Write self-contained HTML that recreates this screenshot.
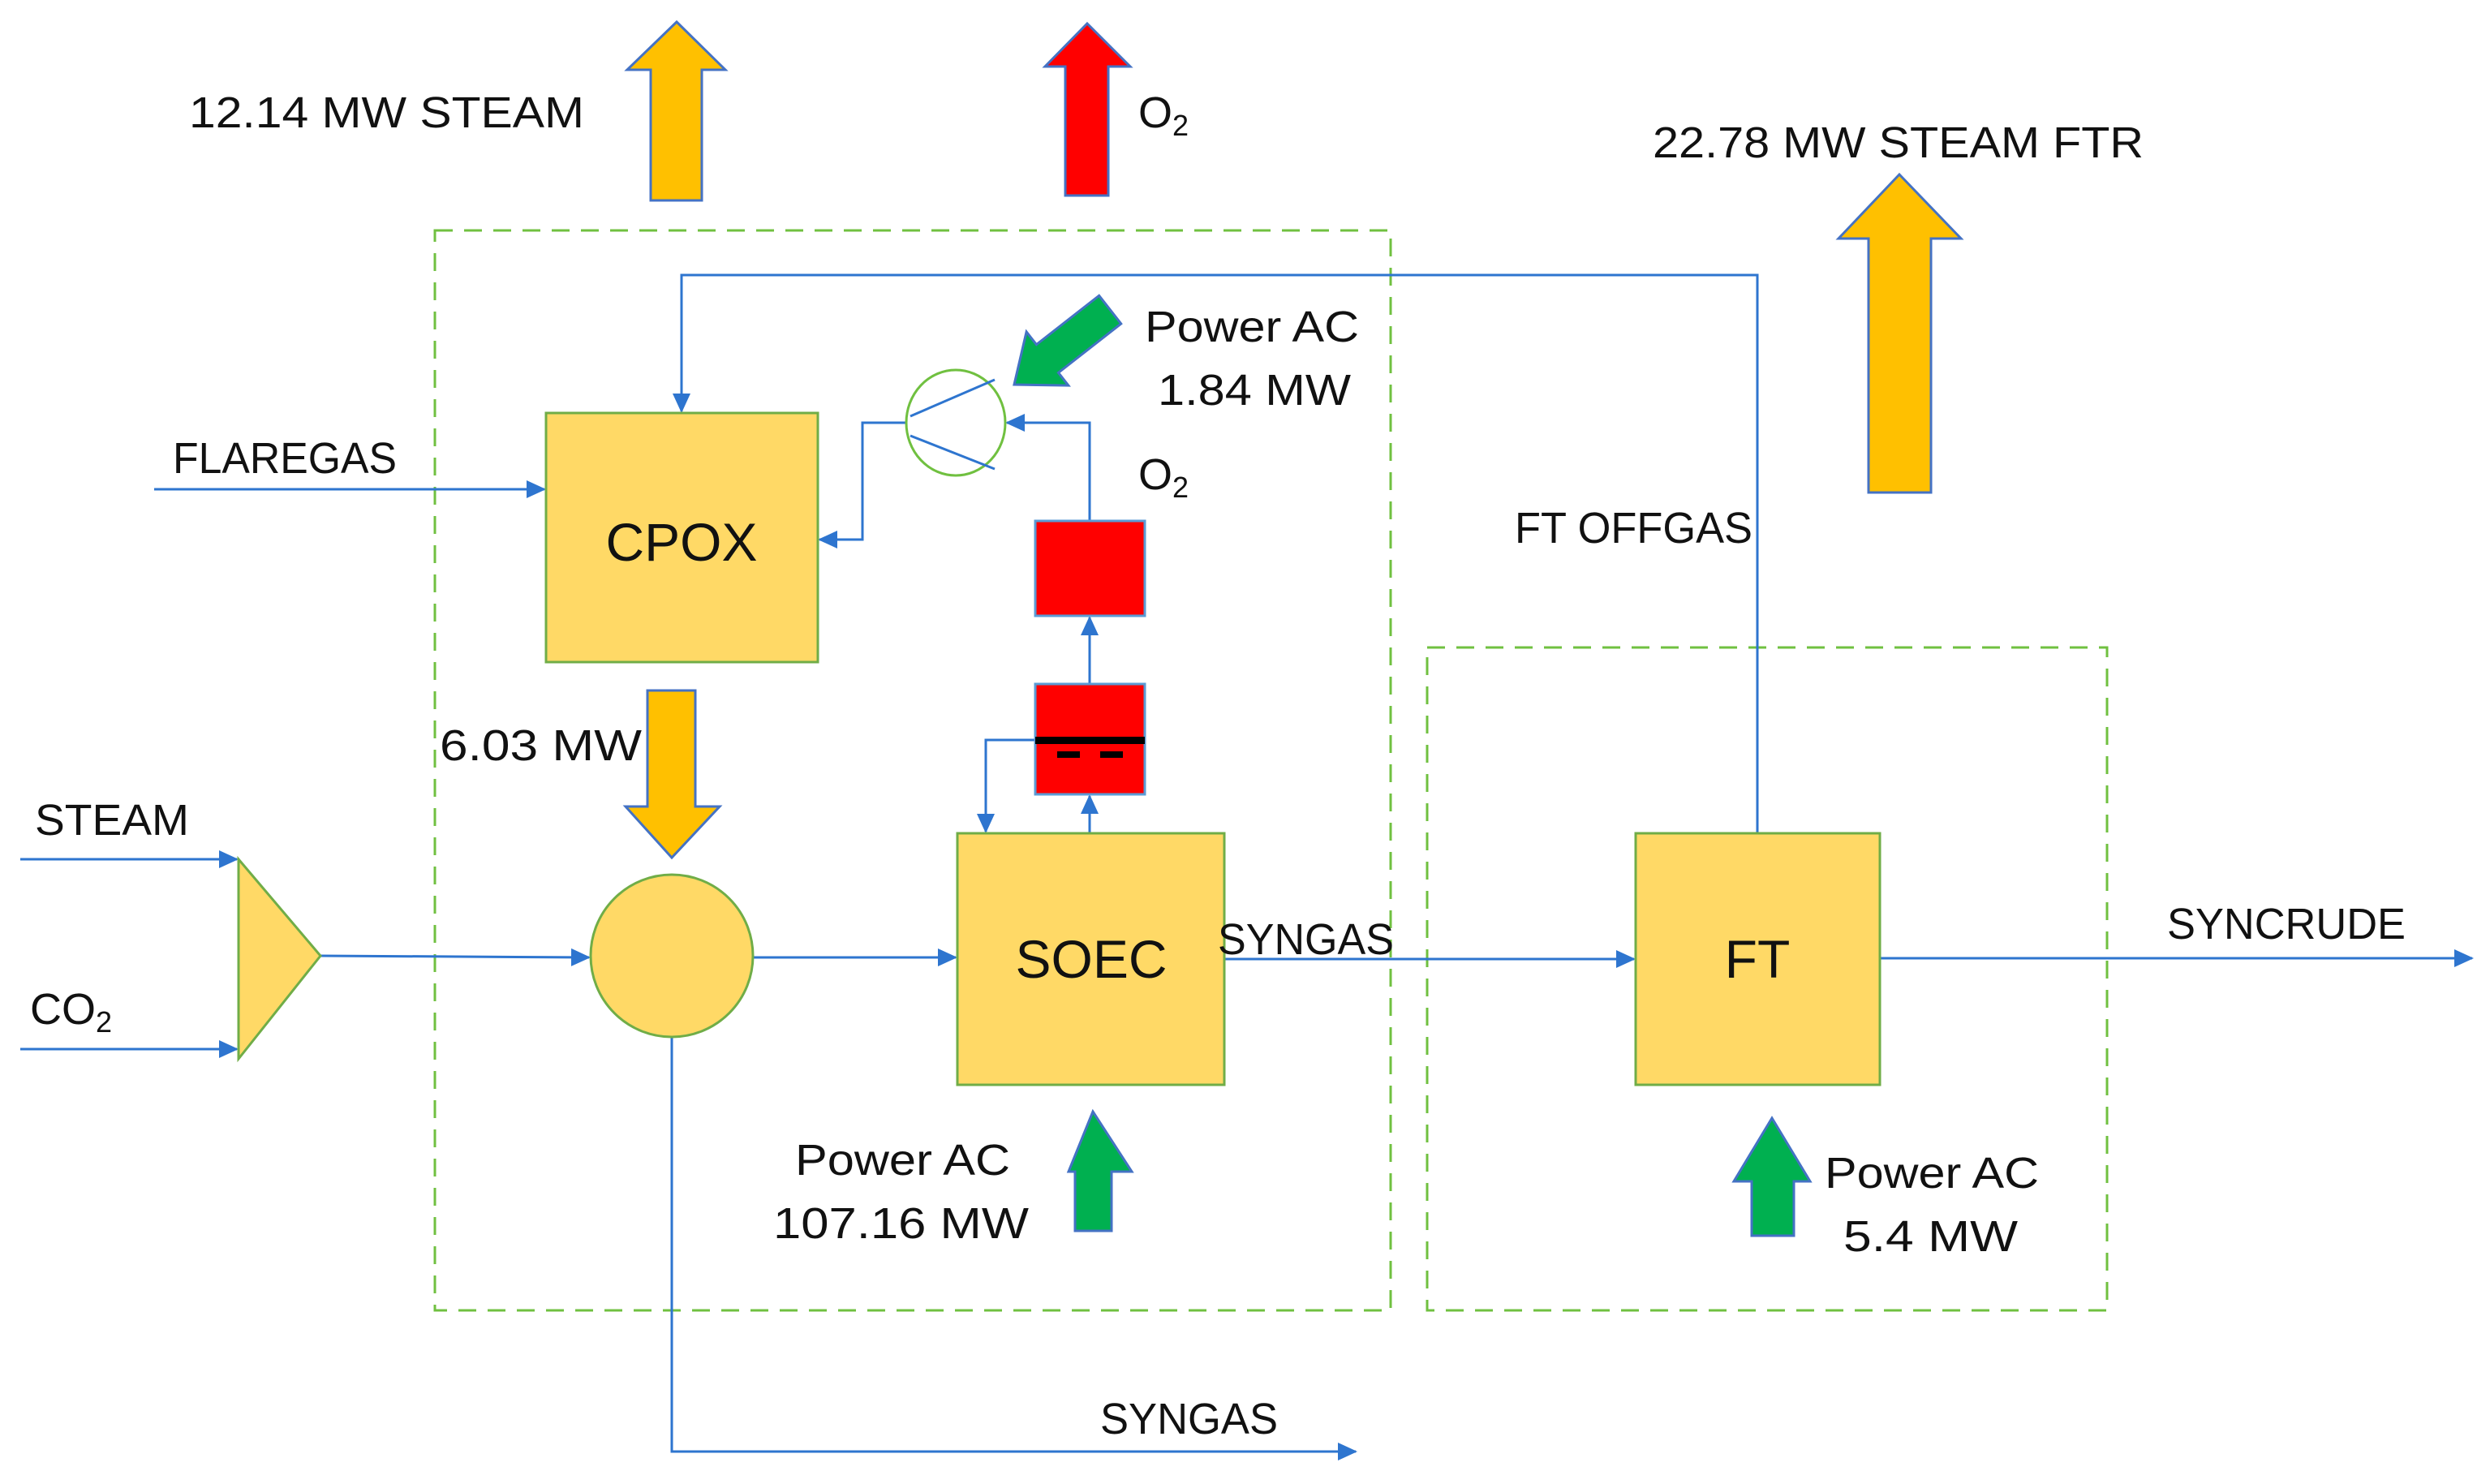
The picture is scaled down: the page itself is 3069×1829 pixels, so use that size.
<!DOCTYPE html>
<html><head><meta charset="utf-8"><style>html,body{margin:0;padding:0;background:#fff}svg{display:block}text{font-family:"Liberation Sans",sans-serif;fill:#111}</style></head><body>
<svg width="3069" height="1829" viewBox="0 0 3069 1829" xmlns="http://www.w3.org/2000/svg">
<defs>
<marker id="m" markerWidth="24" markerHeight="22" refX="22" refY="11" orient="auto" markerUnits="userSpaceOnUse"><path d="M0,0 L24,11 L0,22 z" fill="#2E75CF" stroke="none"/></marker>
</defs>
<rect x="536" y="284" width="1178" height="1331" fill="none" stroke="#70C040" stroke-width="3" stroke-dasharray="22,14"/>
<rect x="1759" y="798" width="838" height="817" fill="none" stroke="#70C040" stroke-width="3" stroke-dasharray="22,14"/>
<g fill="none" stroke="#2E75CF" stroke-width="3">
<polyline points="2166,1027 2166,339 840,339 840,507" marker-end="url(#m)"/>
<polyline points="190,603 671,603" marker-end="url(#m)"/>
<polyline points="1117,521 1063,521 1063,665 1010,665" marker-end="url(#m)"/>
<polyline points="1343,642 1343,521 1241,521" marker-end="url(#m)"/>
<polyline points="1343,843 1343,761" marker-end="url(#m)"/>
<polyline points="1343,1027 1343,981" marker-end="url(#m)"/>
<polyline points="1276,912 1215,912 1215,1025" marker-end="url(#m)"/>
<polyline points="25,1059 292,1059" marker-end="url(#m)"/>
<polyline points="25,1293 292,1293" marker-end="url(#m)"/>
<polyline points="395,1178 726,1180" marker-end="url(#m)"/>
<polyline points="928,1180 1178,1180" marker-end="url(#m)"/>
<polyline points="1509,1182 2014,1182" marker-end="url(#m)"/>
<polyline points="2317,1181 3047,1181" marker-end="url(#m)"/>
<polyline points="828,1278 828,1789 1671,1789" marker-end="url(#m)"/>
</g>
<rect x="673" y="509" width="335" height="307" fill="#FFD966" stroke="#70AD47" stroke-width="3"/>
<rect x="1180" y="1027" width="329" height="310" fill="#FFD966" stroke="#70AD47" stroke-width="3"/>
<rect x="2016" y="1027" width="301" height="310" fill="#FFD966" stroke="#70AD47" stroke-width="3"/>
<circle cx="828" cy="1178" r="100" fill="#FFD966" stroke="#70AD47" stroke-width="3"/>
<polygon points="294,1059 294,1305 395,1178" fill="#FFD966" stroke="#70AD47" stroke-width="3"/>
<ellipse cx="1178" cy="521" rx="61" ry="65" fill="#fff" stroke="#70C040" stroke-width="3"/>
<line x1="1122" y1="513" x2="1226" y2="468" stroke="#2E75CF" stroke-width="3"/>
<line x1="1122" y1="537" x2="1226" y2="578" stroke="#2E75CF" stroke-width="3"/>
<rect x="1276" y="642" width="135" height="117" fill="#FF0000" stroke="#5B9BD5" stroke-width="3"/>
<rect x="1276" y="843" width="135" height="136" fill="#FF0000" stroke="#5B9BD5" stroke-width="3"/>
<rect x="1276" y="908" width="135" height="9" fill="#000"/>
<rect x="1303" y="926" width="28" height="8" fill="#000"/>
<rect x="1356" y="926" width="28" height="8" fill="#000"/>
<g stroke="#4472C4" stroke-width="3" stroke-linejoin="miter">
<polygon points="834,27 894,86 865,86 865,247 802,247 802,86 773,86" fill="#FFC000"/>
<polygon points="1340,29 1393,82 1366,82 1366,241 1313,241 1313,82 1288,82" fill="#FF0000"/>
<polygon points="2341,215 2417,294 2380,294 2380,607 2303,607 2303,294 2266,294" fill="#FFC000"/>
<polygon points="798,851 857,851 857,994 887,994 828,1057 771,994 798,994" fill="#FFC000"/>
<polygon points="1347,1370 1395,1444 1370,1444 1370,1517 1325,1517 1325,1444 1317,1444" fill="#00B050"/>
<polygon points="2184,1378 2231,1456 2211,1456 2211,1523 2159,1523 2159,1456 2137,1456" fill="#00B050"/>
<g transform="translate(1250,474) rotate(-38)">
<polygon points="0,0 52,-42 52,-22 150,-22 150,22 52,22 52,42" fill="#00B050"/>
</g>
</g>
<g font-size="54">
<text x="233" y="157" textLength="487" lengthAdjust="spacingAndGlyphs">12.14 MW STEAM</text>
<text x="1403" y="157">O<tspan font-size="36" dy="10">2</tspan></text>
<text x="2037" y="194" textLength="605" lengthAdjust="spacingAndGlyphs">22.78 MW STEAM FTR</text>
<text x="1411" y="421" textLength="264" lengthAdjust="spacingAndGlyphs">Power AC</text>
<text x="1427" y="499" textLength="238" lengthAdjust="spacingAndGlyphs">1.84 MW</text>
<text x="213" y="583" textLength="276" lengthAdjust="spacingAndGlyphs">FLAREGAS</text>
<text x="1403" y="603">O<tspan font-size="36" dy="10">2</tspan></text>
<text x="1867" y="669" textLength="293" lengthAdjust="spacingAndGlyphs">FT OFFGAS</text>
<text x="542" y="937" textLength="249" lengthAdjust="spacingAndGlyphs">6.03 MW</text>
<text x="43" y="1029" textLength="190" lengthAdjust="spacingAndGlyphs">STEAM</text>
<text x="37" y="1262">CO<tspan font-size="36" dy="10">2</tspan></text>
<text x="1501" y="1176" textLength="217" lengthAdjust="spacingAndGlyphs">SYNGAS</text>
<text x="2671" y="1157" textLength="294" lengthAdjust="spacingAndGlyphs">SYNCRUDE</text>
<text x="980" y="1448" textLength="265" lengthAdjust="spacingAndGlyphs">Power AC</text>
<text x="953" y="1526" textLength="315" lengthAdjust="spacingAndGlyphs">107.16 MW</text>
<text x="2249" y="1464" textLength="264" lengthAdjust="spacingAndGlyphs">Power AC</text>
<text x="2272" y="1542" textLength="215" lengthAdjust="spacingAndGlyphs">5.4 MW</text>
<text x="1356" y="1767" textLength="219" lengthAdjust="spacingAndGlyphs">SYNGAS</text>
</g>
<g font-size="66" text-anchor="middle">
<text x="840" y="691">CPOX</text>
<text x="1345" y="1205">SOEC</text>
<text x="2166" y="1205">FT</text>
</g>
</svg>
</body></html>
